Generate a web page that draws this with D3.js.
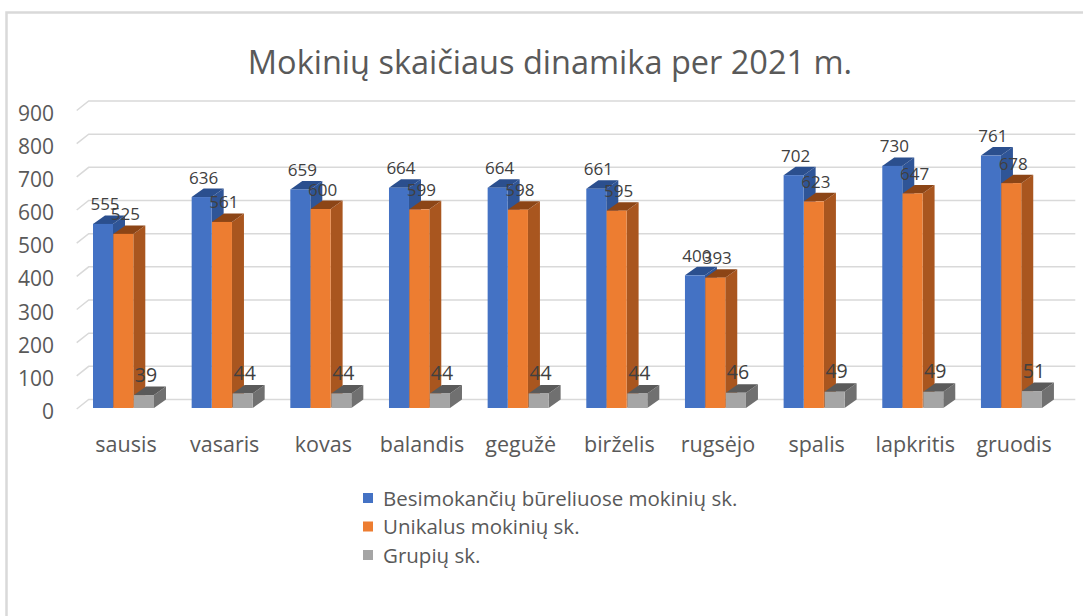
<!DOCTYPE html>
<html>
<head>
<meta charset="utf-8">
<script src="https://cdn.jsdelivr.net/npm/d3@7"></script>
<style>
  body { margin: 0; background: #fff; }
  svg { display: block; font-family: "Open Sans", "Noto Sans", sans-serif; }
</style>
</head>
<body>
<div id="chart"></div>
<script>
// data
const months = ["sausis", "vasaris", "kovas", "balandis", "gegužė", "birželis", "rugsėjo", "spalis", "lapkritis", "gruodis"];
const students = [555, 636, 659, 664, 664, 661, 400, 702, 730, 761];
const unique = [525, 561, 600, 599, 598, 595, 393, 623, 647, 678];
const groups = [39, 44, 44, 44, 44, 44, 46, 49, 49, 51];
const seriesNames = ["Besimokančių būreliuose mokinių sk.", "Unikalus mokinių sk.", "Grupių sk."];
const yTicks = [0, 100, 200, 300, 400, 500, 600, 700, 800, 900];

const W = 1083, H = 616;
const depth = {dx: 12, dy: -8.5};

const colors = [
  {front: "#4472C4", side: "#2F5597", top: "#2B4F8E"},
  {front: "#ED7D31", side: "#A9561F", top: "#8C4516"},
  {front: "#A5A5A5", side: "#707070", top: "#5A5A5A"}
];

const svg = d3.select("#chart").append("svg")
    .attr("width", W)
    .attr("height", H);

// chart border
svg.append("rect")
    .attr("x", 6.5).attr("y", 12.5)
    .attr("width", W + 20).attr("height", H + 20)
    .attr("fill", "#fff")
    .attr("stroke", "#d9d9d9")
    .attr("stroke-width", 2.5);

// title
svg.append("text")
    .attr("x", 550).attr("y", 74)
    .attr("text-anchor", "middle")
    .attr("font-size", 32.5)
    .attr("fill", "#595959")
    .text("Mokinių skaičiaus dinamika per 2021 m.");

// scales (front plane)
const x = d3.scaleBand()
    .domain(months)
    .range([76.7, 1063.3]);

const y = d3.scaleLinear()
    .domain([0, 900])
    .range([408, 109.5]);

// gridlines: back wall + slanted floor edge
const grid = svg.append("g");
yTicks.forEach(v => {
  const yf = y(v);
  grid.append("path")
      .attr("d", `M${x.range()[0]},${yf + 1}L${x.range()[0] + depth.dx},${yf + depth.dy}L${x.range()[1] + depth.dx},${yf + depth.dy}`)
      .attr("fill", "none")
      .attr("stroke", "#d9d9d9")
      .attr("stroke-width", 1.5);
});

// y axis labels
svg.append("g")
    .selectAll("text")
    .data(yTicks)
    .enter()
    .append("text")
    .attr("x", 54)
    .attr("y", d => y(d) + 11)
    .attr("text-anchor", "end")
    .attr("font-size", 21)
    .attr("fill", "#595959")
    .text(d => d);

// category labels
svg.append("g")
    .selectAll("text")
    .data(months)
    .enter()
    .append("text")
    .attr("x", d => x(d) + x.bandwidth() / 2)
    .attr("y", 452)
    .attr("text-anchor", "middle")
    .attr("font-size", 21.5)
    .attr("fill", "#595959")
    .text(d => d);

// bars
const barW = 20;
const offsets = [16.3, 36.6, 57.3];
const series = [students, unique, groups];

const bars = svg.append("g");
months.forEach((m, i) => {
  series.forEach((vals, s) => {
    const v = vals[i];
    const x0 = x(m) + offsets[s];
    const x1 = x0 + barW;
    const yt = y(v), yb = y(0);
    const c = colors[s];
    const g = bars.append("g");
    // side
    g.append("path")
        .attr("d", `M${x1},${yt}L${x1 + depth.dx},${yt + depth.dy}L${x1 + depth.dx},${yb + depth.dy}L${x1},${yb}Z`)
        .attr("fill", c.side);
    // top
    g.append("path")
        .attr("d", `M${x0},${yt}L${x0 + depth.dx},${yt + depth.dy}L${x1 + depth.dx},${yt + depth.dy}L${x1},${yt}Z`)
        .attr("fill", c.top);
    // front
    g.append("rect")
        .attr("x", x0).attr("y", yt)
        .attr("width", barW).attr("height", yb - yt)
        .attr("fill", c.front);
  });
});

// data labels
const labels = svg.append("g");
months.forEach((m, i) => {
  series.forEach((vals, s) => {
    labels.append("text")
        .attr("x", x(m) + offsets[s] + barW / 2 + 2)
        .attr("y", y(vals[i]) - 13.5)
        .attr("text-anchor", "middle")
        .attr("font-size", s === 2 ? 19.5 : 17)
        .attr("fill", "#404040")
        .text(vals[i]);
  });
});

// legend
const legend = svg.append("g");
seriesNames.forEach((name, s) => {
  const ly = 498 + s * 28.5;
  legend.append("rect")
      .attr("x", 363).attr("y", ly - 5)
      .attr("width", 10).attr("height", 10)
      .attr("fill", colors[s].front);
  legend.append("text")
      .attr("x", 383).attr("y", ly + 7.5)
      .attr("font-size", 20.5)
      .attr("fill", "#595959")
      .text(name);
});
</script>
</body>
</html>
